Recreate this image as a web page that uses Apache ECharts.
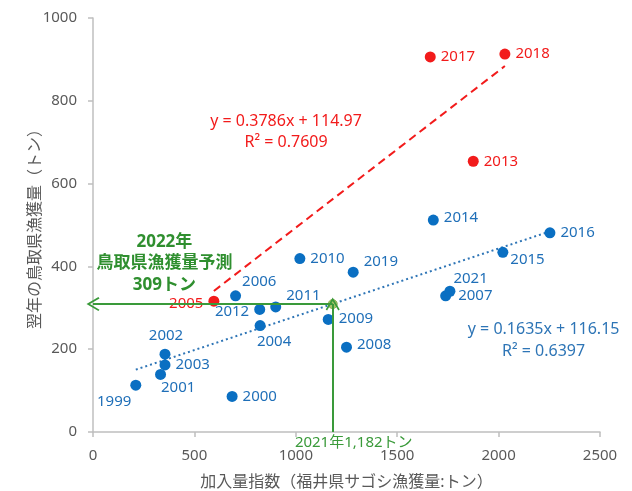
<!DOCTYPE html>
<html>
<head>
<meta charset="utf-8">
<script src="https://cdn.jsdelivr.net/npm/echarts@6/dist/echarts.min.js"></script>
<style>
html,body{margin:0;padding:0;background:#fff;}
#chart{width:632px;height:491px;}
</style>
</head>
<body>
<div id="chart"></div>
<script>
// ---- data ----
const blueYears = ['1999','2000','2001','2002','2003','2004','2006','2007','2008','2009','2010','2011','2012','2014','2015','2016','2019','2021'];
const blueX = [211, 686, 333, 355, 355, 824, 703, 1739, 1250, 1160, 1020, 901, 822, 1678, 2021, 2253, 1283, 1760];
const blueY = [113, 86, 139, 188, 162, 257, 329, 329, 205, 272, 419, 302, 296, 512, 434, 481, 386, 340];

const redYears = ['2005','2013','2017','2018'];
const redX = [596, 1875, 1663, 2031];
const redY = [316, 654, 906, 913];

const forecastX = 1182;
const forecastY = 309;

const redSlope = 0.3786, redIntercept = 114.97, redR2 = 0.7609;
const blueSlope = 0.1635, blueIntercept = 116.15, blueR2 = 0.6397;

const xTicks = [0, 500, 1000, 1500, 2000, 2500];
const yTicks = [0, 200, 400, 600, 800, 1000];

// ---- styles ----
const BLUE = '#0a6fc2';
const RED = '#f21b1b';
const GREEN = '#2f8f2f';
const AXIS = '#bfbfbf';
const TXT = '#595959';
const FONT = '"Noto Sans", "Noto Sans CJK JP", sans-serif';

// label placement per year: [position, dx, dy]
const labelPlace = {
  '1999': ['left', 6, 17],
  '2000': ['right', 0, 0],
  '2001': ['right', -10, 13],
  '2002': ['top', 1, 0],
  '2003': ['right', 0, 0],
  '2004': ['bottom', 14, -2],
  '2005': ['left', 0, 3],
  '2006': ['right', -4, -14],
  '2007': ['right', 2, 0],
  '2008': ['right', 0, -2],
  '2009': ['right', 0, -1],
  '2010': ['right', 0, 0],
  '2011': ['right', 0, -11],
  '2012': ['left', 0, 2],
  '2013': ['right', 0, 0],
  '2014': ['right', 0, -2],
  '2015': ['right', -3, 7],
  '2016': ['right', 0, 0],
  '2017': ['right', 0, 0],
  '2018': ['right', 0, 0],
  '2019': ['right', 0, -10],
  '2021': ['right', -7, -13]
};

function pts(years, xs, ys) {
  return years.map((yr, i) => {
    const p = labelPlace[yr] || ['right', 0, 0];
    return {
      name: yr,
      value: [xs[i], ys[i]],
      label: { position: p[0], offset: [p[1], p[2]] }
    };
  });
}

function trend(slope, intercept, xs) {
  const x0 = Math.min(...xs), x1 = Math.max(...xs);
  return [[x0, slope * x0 + intercept], [x1, slope * x1 + intercept]];
}

const chevron = 'path://M0,0 L7,11 L5.6,12 L0,3.2 L-5.6,12 L-7,11 Z';

const chart = echarts.init(document.getElementById('chart'), null, { renderer: 'canvas' });
chart.setOption({
  animation: false,
  backgroundColor: '#fff',
  textStyle: { fontFamily: FONT },
  grid: { left: 93, right: 32, top: 18, bottom: 59, containLabel: false, outerBoundsMode: 'none' },
  xAxis: {
    type: 'value', min: xTicks[0], max: xTicks[xTicks.length - 1], interval: 500,
    name: '加入量指数（福井県サゴシ漁獲量:トン）',
    nameLocation: 'middle', nameGap: 42, nameMoveOverlap: false,
    nameTextStyle: { color: TXT, fontSize: 16, fontFamily: FONT, verticalAlign: 'top' },
    axisLine: { lineStyle: { color: AXIS, width: 1.5 } },
    axisTick: { show: true, length: 5, lineStyle: { color: AXIS, width: 1.5 } },
    axisLabel: { color: TXT, fontSize: 15, margin: 16, fontFamily: FONT, formatter: (v) => String(v) },
    splitLine: { show: false }
  },
  yAxis: {
    type: 'value', min: yTicks[0], max: yTicks[yTicks.length - 1], interval: 200,
    name: '翌年の鳥取県漁獲量（トン）',
    nameLocation: 'middle', nameGap: 50, nameMoveOverlap: false,
    nameTextStyle: { color: TXT, fontSize: 16, fontFamily: FONT },
    axisLine: { show: true, lineStyle: { color: AXIS, width: 1.5 } },
    axisTick: { show: true, length: 5, lineStyle: { color: AXIS, width: 1.5 } },
    axisLabel: { color: TXT, fontSize: 15, margin: 16, fontFamily: FONT, formatter: (v) => String(v) },
    splitLine: { show: false }
  },
  series: [
    {
      name: 'blueTrend', type: 'line', data: trend(blueSlope, blueIntercept, blueX),
      symbol: 'none', silent: true, z: 1,
      lineStyle: { color: '#2e75b6', width: 2, type: [2, 3] },
      markPoint: {
        symbol: 'circle', symbolSize: 0,
        label: { show: true, color: '#2e75b6', fontSize: 16, fontFamily: FONT, align: 'center',
          formatter: (p) => p.name },
        data: [
          { name: 'y = ' + blueSlope + 'x + ' + blueIntercept, coord: [2222, 247] },
          { name: 'R² = ' + blueR2.toFixed(4), coord: [2222, 194] }
        ]
      }
    },
    {
      name: 'redTrend', type: 'line', data: trend(redSlope, redIntercept, redX),
      symbol: 'none', silent: true, z: 1,
      lineStyle: { color: RED, width: 2, type: [8, 5] },
      markPoint: {
        symbol: 'circle', symbolSize: 0,
        label: { show: true, color: RED, fontSize: 16, fontFamily: FONT, align: 'center',
          formatter: (p) => p.name },
        data: [
          { name: 'y = ' + redSlope + 'x + ' + redIntercept, coord: [952, 750] },
          { name: 'R² = ' + redR2.toFixed(4), coord: [952, 700] }
        ]
      }
    },
    {
      name: 'blue', type: 'scatter', symbolSize: 11, z: 3,
      itemStyle: { color: BLUE, opacity: 1 },
      label: { show: true, color: '#1f6fb8', fontSize: 15, fontFamily: FONT, distance: 5, formatter: (p) => p.name },
      data: pts(blueYears, blueX, blueY)
    },
    {
      name: 'red', type: 'scatter', symbolSize: 11, z: 3,
      itemStyle: { color: RED, opacity: 1 },
      label: { show: true, color: RED, fontSize: 15, fontFamily: FONT, distance: 5, formatter: (p) => p.name },
      data: pts(redYears, redX, redY)
    },
    {
      name: 'forecast', type: 'scatter', symbolSize: 9, z: 4,
      itemStyle: { color: '#a9c46a', borderColor: '#8db04f', borderWidth: 1, opacity: 1 },
      data: [[forecastX, forecastY]],
      markLine: {
        silent: true, animation: false,
        symbol: ['none', chevron], symbolSize: [14, 13],
        lineStyle: { color: '#3a9a3a', width: 2, type: 'solid' },
        label: { show: false },
        data: [
          [{ coord: [forecastX, 0] }, { coord: [forecastX, forecastY] }],
          [{ coord: [forecastX, forecastY] }, { coord: [0, forecastY] }]
        ]
      },
      markPoint: {
        symbol: 'circle', symbolSize: 0,
        data: [
          { name: '2022年\n鳥取県漁獲量予測\n' + forecastY + 'トン', coord: [352, 407],
            label: { show: true, color: GREEN, fontSize: 17, fontWeight: 'bold', lineHeight: 21.5, align: 'center', verticalAlign: 'middle', fontFamily: FONT,
              formatter: (p) => p.name } },
          { name: '2021年' + forecastX.toLocaleString('en-US') + 'トン', coord: [forecastX, 0],
            label: { show: true, color: '#3a9a3a', fontSize: 15, align: 'center', verticalAlign: 'middle', fontFamily: FONT,
              offset: [21, 11], formatter: (p) => p.name } }
        ]
      }
    }
  ]
});
</script>
</body>
</html>
